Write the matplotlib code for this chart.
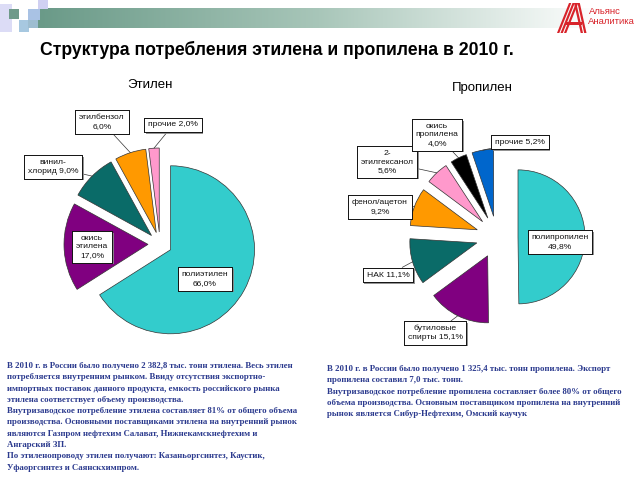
import numpy as np
import matplotlib
matplotlib.use('Agg')
import matplotlib.pyplot as plt
from matplotlib.patches import Rectangle, Polygon
import matplotlib.patheffects as pe

# данные: этилен
eth_names = ['полиэтилен\n', 'окись\nэтилена\n', 'винил-\nхлорид ', 'этилбензол\n', 'прочие ']
eth_values = [66.0, 17.0, 9.0, 6.0, 2.0]
eth_colors = ['#33CCCC', '#800080', '#0a6b68', '#FF9900', '#FF99CC']

# данные: пропилен
pro_names = ['полипропилен\n', 'бутиловые\nспирты ', 'НАК ', 'фенол/ацетон\n',
             '2-\nэтилгексанол\n', 'окись\nпропилена\n', 'прочие ']
pro_values = [49.8, 15.1, 11.1, 9.2, 5.6, 4.0, 5.2]
pro_colors = ['#33CCCC', '#800080', '#0a6b68', '#FF9900', '#FF99CC', '#000000', '#0066CC']

title = 'Структура потребления этилена и пропилена в 2010 г.'

eth_text = ("В 2010 г. в России было получено 2 382,8 тыс. тонн этилена. Весь этилен\n"
            "потребляется внутренним рынком. Ввиду отсутствия экспортно-\n"
            "импортных поставок данного продукта, емкость российского рынка\n"
            "этилена соответствует объему производства.\n"
            "Внутризаводское потребление этилена составляет 81% от общего объема\n"
            "производства. Основными поставщиками этилена на внутренний рынок\n"
            "являются Газпром нефтехим Салават, Нижнекамскнефтехим и\n"
            "Ангарский ЗП.\n"
            "По этиленопроводу этилен получают: Казаньоргсинтез, Каустик,\n"
            "Уфаоргсинтез и Саянскхимпром.")
pro_text = ("В 2010 г. в России было получено 1 325,4 тыс. тонн пропилена. Экспорт\n"
            "пропилена составил 7,0 тыс. тонн.\n"
            "Внутризаводское потребление пропилена составляет более 80% от общего\n"
            "объема производства. Основным поставщиком пропилена на внутренний\n"
            "рынок является Сибур-Нефтехим, Омский каучук")

H = 480


def Y(y):
    return H - y


fig = plt.figure(figsize=(6.4, 4.8), dpi=100)
ax = fig.add_axes([0, 0, 1, 1])

# шапка слайда: градиент
grad = np.linspace(0, 1, 256).reshape(1, -1)
cmap = matplotlib.colors.LinearSegmentedColormap.from_list('hdr', ['#6a9a88', '#a8c6b9', '#ffffff'])
ax.imshow(grad, cmap=cmap, extent=(38, 600, Y(28), Y(8)), aspect='auto', zorder=0)
for (x0, y0, w, h, c) in [(0, 4, 12, 28, '#dcdcf6'), (9, 9, 10, 10, '#6f9a8a'),
                          (38, 0, 10, 9, '#d0d0f2'), (28, 9, 12, 11, '#a9c2e4'),
                          (19, 20, 10, 12, '#a7c8e0'), (28, 20, 10, 8, '#9dbdd0')]:
    ax.add_patch(Rectangle((x0, Y(y0 + h)), w, h, color=c, lw=0, zorder=1))

# логотип
red = '#d8232a'
for dx in (0, 3.5, 7):
    ax.add_patch(Polygon([(557 + dx, Y(33)), (569 + dx, Y(3)), (571.3 + dx, Y(3)), (559.3 + dx, Y(33))],
                         color=red, lw=0))
for dx in (0, 3.5):
    ax.add_patch(Polygon([(574 + dx, Y(3)), (576.3 + dx, Y(3)), (583 + dx, Y(33)), (580.7 + dx, Y(33))],
                         color=red, lw=0))
ax.add_patch(Polygon([(565, Y(25)), (582, Y(25)), (582, Y(22)), (566, Y(22))], color=red, lw=0))
ax.text(589, Y(12), 'Альянс', color=red, fontsize=6.8, family='Liberation Sans', va='center')
ax.text(588, Y(22), 'Аналитика', color=red, fontsize=6.8, family='Liberation Sans', va='center')

ax.text(40, Y(50), title, fontsize=12.7, fontweight='bold', family='Liberation Sans', va='center')
ax.text(150, Y(85), 'Этилен', fontsize=9.5, family='Liberation Sans', ha='center', va='center')
ax.text(482, Y(88), 'Пропилен', fontsize=9.5, family='Liberation Sans', ha='center', va='center')

# пироги (explode в пикселях, т.к. оси в пикселях)
eth_w, _ = ax.pie(eth_values, colors=eth_colors, startangle=90, counterclock=False,
                  explode=[12] * len(eth_values), center=(160, Y(244)), radius=84,
                  wedgeprops=dict(edgecolor='#333333', linewidth=0.5), frame=True)
pro_w, _ = ax.pie(pro_values, colors=pro_colors, startangle=90, counterclock=False,
                  explode=[21] * len(pro_values), center=(497, Y(237)), radius=67,
                  wedgeprops=dict(edgecolor='#333333', linewidth=0.5), frame=True)

eth_pos = [(205, 279), (92, 247), (53, 167), (102, 122), (173, 125)]
pro_pos = [(560, 242), (435, 333), (388, 275), (380, 207), (387, 162), (437, 135), (520, 142)]


def put_labels(wedges, names, values, pos, leaders):
    for i, (w, n, v, p) in enumerate(zip(wedges, names, values, pos)):
        s = n + f'{v:.1f}%'.replace('.', ',')
        ang = np.deg2rad((w.theta1 + w.theta2) / 2)
        tip = (w.center[0] + w.r * np.cos(ang), w.center[1] + w.r * np.sin(ang))
        kw = dict(fontsize=6.1, family='Liberation Sans', ha='center', va='center',
                  multialignment='center', color='#111111', linespacing=1.3,
                  bbox=dict(boxstyle='square,pad=0.45', fc='white', ec='black', lw=0.6), zorder=5)
        if i in leaders:
            t = ax.annotate(s, xy=tip, xytext=(p[0], Y(p[1])),
                            arrowprops=dict(arrowstyle='-', color='#333333', lw=0.5,
                                            shrinkA=0, shrinkB=0), **kw)
        else:
            t = ax.text(p[0], Y(p[1]), s, **kw)
        t.get_bbox_patch().set_path_effects([
            pe.withSimplePatchShadow(offset=(1.2, -1.2), shadow_rgbFace='#888888', alpha=0.9),
            pe.Normal()])


put_labels(eth_w, eth_names, eth_values, eth_pos, [2, 3, 4])
put_labels(pro_w, pro_names, pro_values, pro_pos, [1, 2, 3, 4, 5, 6])

ax.text(7, Y(362), eth_text, fontsize=6.3, fontweight='bold', family='Liberation Serif',
        color='#2b3a8e', va='top', linespacing=1.55)
ax.text(327, Y(365), pro_text, fontsize=6.3, fontweight='bold', family='Liberation Serif',
        color='#2b3a8e', va='top', linespacing=1.55)

ax.set_xlim(0, 640)
ax.set_ylim(0, 480)
ax.axis('off')

fig.savefig('out.png', dpi=100)
